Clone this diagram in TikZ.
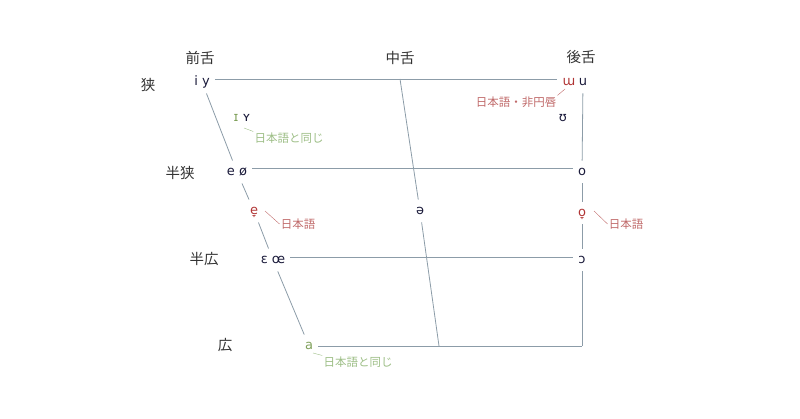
\documentclass[tikz,border=0pt]{standalone}
\usepackage{fontspec}
\setmainfont{DejaVu Sans}
\newfontfamily\jp{Noto Sans CJK JP}
\definecolor{lineCol}{HTML}{8C9CA8}
\definecolor{ink}{HTML}{1A1A3A}
\definecolor{head}{HTML}{333333}
\definecolor{vRed}{HTML}{B03434}
\definecolor{noteRed}{HTML}{C06A6A}
\definecolor{vGreen}{HTML}{7FA05A}
\definecolor{noteGreen}{HTML}{9DBE86}
\begin{document}
\begin{tikzpicture}[
    x=1pt, y=-1pt,
    vowel/.style={%
      inner sep=5pt,
      text height=9.5pt,
      text depth=3pt,
      text=ink,
      font=\fontsize{13}{13}\selectfont,
    },
    heading/.style={%
      inner sep=1pt,
      text=head,
      font=\jp\fontsize{14.5}{14.5}\selectfont,
    },
    redNote/.style={%
      inner sep=1pt,
      text=noteRed,
      font=\jp\fontsize{11.5}{11.5}\selectfont,
    },
    greenNote/.style={%
      inner sep=1pt,
      text=noteGreen,
      font=\jp\fontsize{11.5}{11.5}\selectfont,
    },
    line/.style={%
      draw=lineCol,
      line width=0.8pt,
    },
  ]
    \useasboundingbox (0,0) rectangle (800,419);
    % headings
    \node [heading] (front) at (200,58) {前舌};
    \node [heading] (central) at (400,58) {中舌};
    \node [heading] (back) at (581,57) {後舌};
    \node [heading] (close) at (148,85) {狭};
    \node [heading] (closeMid) at (180,173) {半狭};
    \node [heading] (openMid) at (204,259) {半広};
    \node [heading] (open) at (225,345) {広};
    % vowels
    \node [vowel] (iY) at (202,82) {i y};
    \node [vowel] (smallIY) at (242,118) {{\color{vGreen}ɪ} ʏ};
    \node [vowel] (eO) at (237,172) {e ø};
    \node [vowel, text=vRed] (eLow) at (254,211) {e̞};
    \node [vowel] (epsOe) at (273,260) {ɛ œ};
    \node [vowel, text=vGreen] (a) at (309,346) {a};
    \node [vowel, text=vRed] (wUnr) at (569,82) {ɯ};
    \node [vowel] (u) at (583,82) {u};
    \node [vowel] (hU) at (563,118) {ʊ};
    \node [vowel] (o) at (582,172) {o};
    \node [vowel, text=vRed] (oLow) at (582,213) {o̞};
    \node [vowel] (openO) at (582,260) {ɔ};
    \node [vowel] (schwa) at (420,211) {ə};
    \coordinate (corner) at (582,346);
    \coordinate (cTop) at (400,79);
    \coordinate (cBot) at (439,346);
    % notes
    \path (wUnr) ++(-53,20) node [redNote] (wUnrNote) {日本語・非円唇};
    \path (smallIY) ++(47,20) node [greenNote] (smallIYNote) {日本語と同じ};
    \path (eLow) ++(44,13) node [redNote] (eLowNote) {日本語};
    \path (oLow) ++(44,11) node [redNote] (oLowNote) {日本語};
    \path (a) ++(49,16) node [greenNote] (aNote) {日本語と同じ};
    % chart lines
    \draw [line] ([yshift=3pt]iY.east) -- ([yshift=3pt]wUnr.west);
    \draw [line] ([yshift=4pt]eO.east) -- ([yshift=4pt]o.west);
    \draw [line] ([yshift=3pt]epsOe.east) -- ([yshift=3pt]openO.west);
    \draw [line] (a) -- (corner);
    \draw [line] (iY) -- (eO);
    \draw [line] (eO) -- (eLow);
    \draw [line] (eLow) -- (epsOe);
    \draw [line] (epsOe) -- (a);
    \draw [line] (u) -- (o);
    \draw [line] (o) -- (oLow);
    \draw [line] (oLow) -- (openO);
    \draw [line] (openO) -- (corner);
    \draw [line] (cTop) -- (schwa);
    \draw [line] (schwa) -- (cBot);
    % leaders
    \draw [draw=noteRed] ([shift={(-4,7)}]wUnr.center) -- (wUnrNote.north east);
    \draw [draw=noteGreen] ([shift={(2,10)}]smallIY.center) -- (smallIYNote.north west);
    \draw [draw=noteRed] ([shift={(11,0)}]eLow.center) -- (eLowNote.west);
    \draw [draw=noteRed] ([shift={(12,-2)}]oLow.center) -- (oLowNote.west);
    \draw [draw=noteGreen] ([shift={(4,7)}]a.center) -- (aNote.north west);
\end{tikzpicture}
\end{document}
